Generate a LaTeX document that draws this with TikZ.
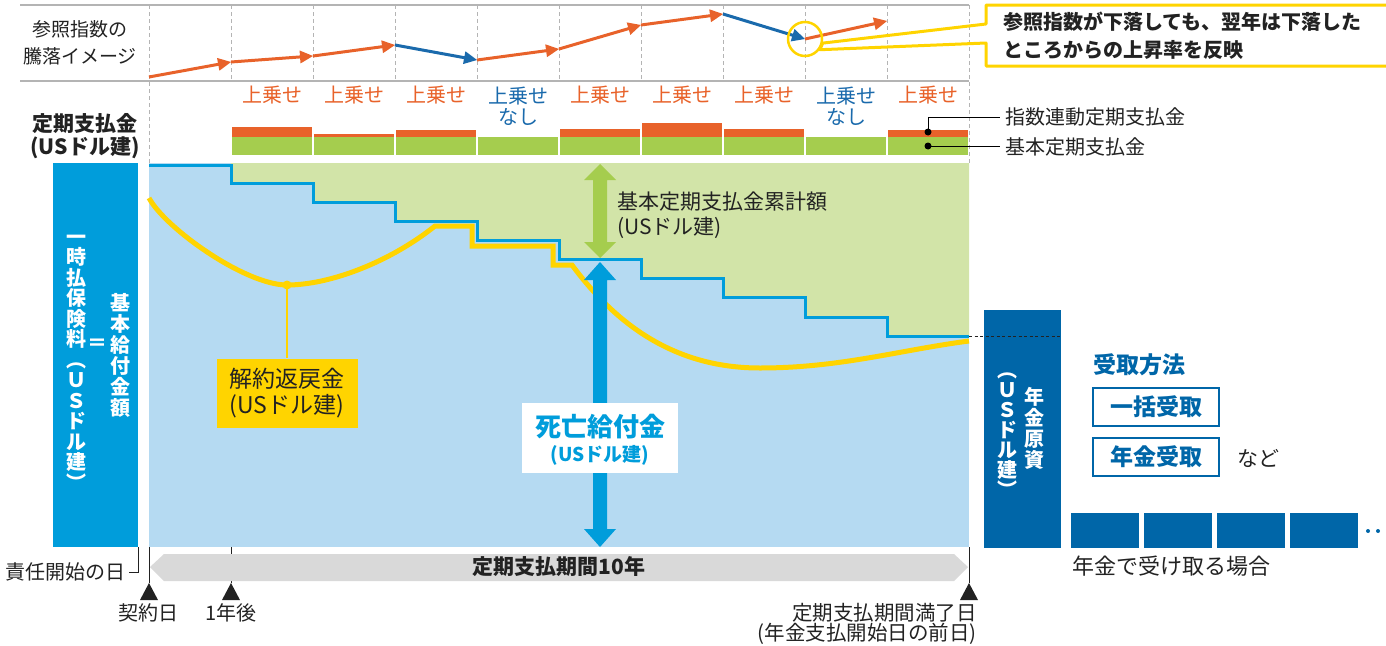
\documentclass[tikz,border=0pt]{standalone}
\usepackage{fontspec}
\setmainfont{Noto Sans CJK JP}
\usetikzlibrary{calc}

\definecolor{idxorange}{HTML}{E8622A}
\definecolor{idxblue}{HTML}{1A6AAC}
\definecolor{dbblue}{HTML}{009DDB}
\definecolor{fundblue}{HTML}{0066A8}
\definecolor{areablue}{HTML}{B5DAF2}
\definecolor{areagreen}{HTML}{D2E4A8}
\definecolor{basegreen}{HTML}{A5CD4E}
\definecolor{cvyellow}{HTML}{FFD400}
\definecolor{txtgray}{HTML}{222222}
\definecolor{rulegray}{HTML}{B4B4B4}
\definecolor{bargray}{HTML}{D9D9D9}

\newcommand{\setfs}[2]{\fontsize{#1}{#2}\selectfont}
% index segment: line plus filled triangle head at #2
\newcommand{\idxarrow}[3]{%
  \draw[color=#3, line width=3] (#1) -- ($(#2)!8pt!(#1)$);
  \fill[color=#3] (#2) -- ($(#2)!13pt!(#1)!6.5pt!90:(#2)$) -- ($(#2)!13pt!(#1)!6.5pt!-90:(#2)$) -- cycle;
}
% one character per slot, top to bottom
\newcommand{\vcolumn}[5]{%
  \foreach \ch [count=\i] in {#5}
    \node[anchor=base] (#1\i) at (#2,#3+#4*\i-#4+7.6) {\ch};
}

\begin{document}
\begin{tikzpicture}[x=1pt,y=-1pt]
\tikzstyle{every node}+=[inner sep=0pt, text=txtgray]
\tikzstyle{rule}=[rulegray, line width=1.5]
\tikzstyle{grid}=[rulegray, line width=1, dash pattern=on 4pt off 3pt]
\tikzstyle{upl}=[font=\setfs{20}{21}, align=center]
\tikzstyle{legend}=[anchor=west, font=\setfs{20}{20}]
\tikzstyle{tick}=[txtgray, line width=1]
\tikzstyle{way}=[draw=fundblue, line width=1.5, fill=white, minimum width=126, minimum height=38, font=\bfseries\setfs{23}{23}, text=fundblue]

\useasboundingbox (0,0) rectangle (1386,645);

% index chart
\draw[rule] (20,5) -- (969,5);
\draw[rule] (20,81) -- (969,81);
\foreach \x in {231,313,...,887} \draw[grid] (\x,5) -- (\x,81);
\draw[grid] (149,5) -- (149,163);
\draw[grid] (969,5) -- (969,163);

\coordinate (p0) at (149,77);
\coordinate (p1) at (231,62);
\coordinate (p2) at (313,56);
\coordinate (p3) at (395,45);
\coordinate (p4) at (477,60);
\coordinate (p5) at (559,49);
\coordinate (p6) at (641,25);
\coordinate (p7) at (723,14);
\coordinate (p8) at (805,39);
\coordinate (p9) at (887,21);
\foreach \pa/\pb/\pc in {p0/p1/idxorange, p1/p2/idxorange, p2/p3/idxorange, p3/p4/idxblue,
  p4/p5/idxorange, p5/p6/idxorange, p6/p7/idxorange, p7/p8/idxblue, p8/p9/idxorange}
  {\idxarrow{\pa}{\pb}{\pc}}

\node[circle, draw=cvyellow, line width=2.5, minimum size=34] (dip) at (p8) {};
\draw[cvyellow, line width=3, line join=round] (1386,5) -- (986,5) -- (986,24) -- (dip.-13) -- (dip.-36) -- (986,43) -- (986,66) -- (1386,66);
\node[anchor=west, align=left, font=\bfseries\setfs{20}{28}] (note) at (1003,36) {参照指数が下落しても、翌年は下落した\\ところからの上昇率を反映};

\node[align=center, font=\setfs{19}{27}] (idxlbl) at (80,43) {参照指数の\\騰落イメージ};
\node[align=center, font=\bfseries\setfs{21}{23}] (paylbl) at (85,136) {定期支払金\\(USドル建)};

% payouts per year
\foreach \k in {0,1,2,4,5,6,8} \node[upl, text=idxorange] (up\k) at (272+82*\k,95) {上乗せ};
\foreach \k in {3,7} \node[upl, text=idxblue] (up\k) at (272+82*\k,106) {上乗せ\\なし};
\foreach \k/\t in {0/127,1/134,2/130,4/129,5/123,6/129,8/130}
  \fill[idxorange] (232+82*\k,\t) rectangle (312+82*\k,137);
\foreach \k in {0,...,8} \fill[basegreen] (232+82*\k,137) rectangle (312+82*\k,155);

\coordinate (lgA) at (928,132);
\coordinate (lgB) at (928,146);
\node[legend] (lgidx) at (1005,117) {指数連動定期支払金};
\node[legend] (lgbase) at (1005,147) {基本定期支払金};
\fill (lgA) circle (3.5);
\fill (lgB) circle (3.5);
\draw[line width=0.8] (lgA) |- ([xshift=-5]lgidx.west);
\draw[line width=0.8] (lgB) -- ([xshift=-5]lgbase.west |- lgB);

% main chart
\fill[areablue] (149,163) rectangle (969,547);
\fill[areagreen] (231,163) -- (231,183) -- (313,183) -- (313,202) -- (395,202) -- (395,221) -- (477,221) -- (477,240) -- (559,240) -- (559,259) -- (641,259) -- (641,278) -- (723,278) -- (723,297) -- (805,297) -- (805,317) -- (887,317) -- (887,336) -- (969,336) -- (969,163) -- cycle;
\draw[cvyellow, line width=5] (149,198) .. controls (165,228) and (245,285) .. (287,285) .. controls (330,285) and (390,262) .. (435,226) -- (472,226) -- (472,246) -- (553,246) -- (553,265) -- (572,265) .. controls (620,330) and (680,368) .. (760,368) .. controls (840,368) and (900,350) .. (969,341);
\draw[dbblue, line width=3] (149,165) -- (231,165) -- (231,183) -- (313,183) -- (313,202) -- (395,202) -- (395,221) -- (477,221) -- (477,240) -- (559,240) -- (559,259) -- (641,259) -- (641,278) -- (723,278) -- (723,297) -- (805,297) -- (805,317) -- (887,317) -- (887,336) -- (969,336);

\fill[basegreen] (600,164) -- (616,180) -- (607,180) -- (607,242) -- (616,242) -- (600,258) -- (584,242) -- (593,242) -- (593,180) -- (584,180) -- cycle;
\node[anchor=west, align=left, font=\setfs{21}{25}] (cumlbl) at (617,215) {基本定期支払金累計額\\(USドル建)};

\fill[dbblue] (600,262) -- (616,280) -- (607,280) -- (607,529) -- (616,529) -- (600,547) -- (584,529) -- (593,529) -- (593,280) -- (584,280) -- cycle;
\node[fill=white, minimum width=156, minimum height=70] (death) at (600,438) {};
\node[font=\bfseries\setfs{26}{26}, text=dbblue] (deathA) at (600,427) {死亡給付金};
\node[font=\bfseries\setfs{19}{19}, text=dbblue] (deathB) at (600,455) {(USドル建)};

\coordinate (cvmin) at (287,285);
\node[fill=cvyellow, minimum width=141, minimum height=69, align=center, font=\setfs{23}{26}] (cvlbl) at (287,393) {解約返戻金\\(USドル建)};
\draw[cvyellow, line width=1.2] (cvmin) -- (cvlbl.north);
\fill[cvyellow] (cvmin) circle (4.5);

% premium
\fill[dbblue] (53,163) rectangle (138,547);
\begin{scope}[every node/.append style={font=\bfseries\setfs{20}{20}, text=white}]
\vcolumn{prem}{76}{236.5}{20.5}{一,時,払,保,険,料,︵,Ｕ,Ｓ,ド,ル,建,︶}
\vcolumn{basic}{120}{303}{21}{基,本,給,付,金,額}
\node (eq) at (97,345) {＝};
\end{scope}

% annuity fund
\fill[fundblue] (984,310) rectangle (1061,548);
\begin{scope}[every node/.append style={font=\bfseries\setfs{20}{20}, text=white}]
\vcolumn{fund}{1034}{397}{21}{年,金,原,資}
\vcolumn{fundcur}{1007}{370}{20}{︵,Ｕ,Ｓ,ド,ル,建,︶}
\end{scope}
\draw[txtgray, line width=0.8, dash pattern=on 3pt off 2.5pt] (969,336) -- (1060,336);

\node[anchor=west, font=\bfseries\setfs{23}{23}, text=fundblue] (howlbl) at (1093,365) {受取方法};
\node[way] (lump) at (1156,407) {一括受取};
\node[way] (annuity) at (1156,457) {年金受取};
\node[anchor=west, font=\setfs{21}{21}] (etc) at (1237,458) {など};
\foreach \k in {0,...,3} \fill[fundblue] (1071+73*\k,513) rectangle (1139+73*\k,548);
\fill[fundblue] (1368,531) circle (2);
\fill[fundblue] (1378,531) circle (2);
\node[anchor=west, font=\setfs{22}{22}] (annlbl) at (1072,566) {年金で受け取る場合};

% time line
\coordinate (t0) at (149,583);
\coordinate (t1) at (231,583);
\coordinate (t2) at (969,583);
\draw[tick] (149,547) -- (t0);
\draw[tick] (231,547) -- (t1);
\draw[tick] (969,547) -- (t2);
\fill[bargray] (150,567) -- (164,554) -- (954,554) -- (968,567) -- (954,581) -- (164,581) -- cycle;
\node[font=\bfseries\setfs{21}{21}] (period) at (559,567) {定期支払期間10年};
\foreach \t in {t0,t1,t2} \fill[txtgray] (\t) -- ++(9,17) -- ++(-18,0) -- cycle;

\node[anchor=east, font=\setfs{20}{20}] (startlbl) at (126,572) {責任開始の日};
\draw[tick] (138,547) |- ([xshift=3]startlbl.east);
\node[font=\setfs{20}{20}] (contract) at (148,613) {契約日};
\node[font=\setfs{20}{20}] (oneyear) at (231,613) {1年後};
\node[anchor=east, align=right, font=\setfs{20.5}{19}] (endlbl) at (977,624) {定期支払期間満了日\\(年金支払開始日の前日)};
\end{tikzpicture}
\end{document}
